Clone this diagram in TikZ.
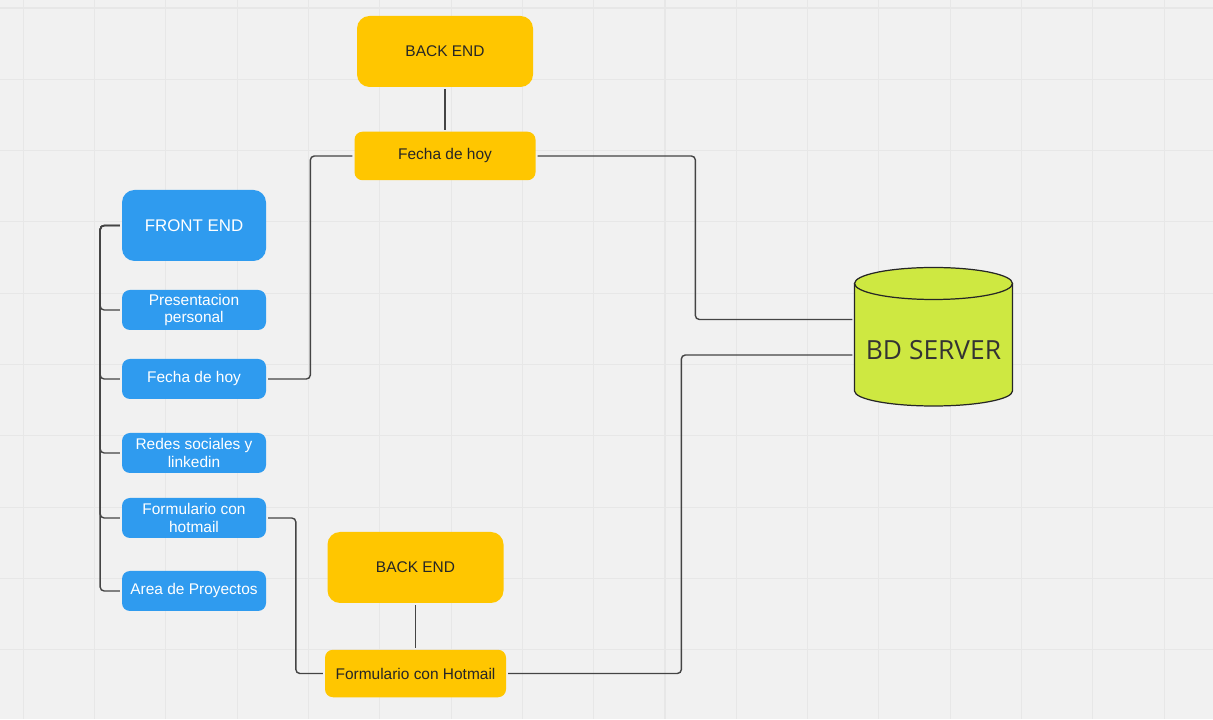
\documentclass[tikz,border=0pt]{standalone}
\usepackage{fontspec}
\setmainfont{Liberation Sans}
\newfontfamily\dbfont{Open Sans}
\usepackage{xcolor}
\usepackage{tikz}
\usetikzlibrary{arrows.meta, positioning}
\definecolor{bgcol}{HTML}{F1F1F1}
\definecolor{gridcol}{HTML}{E7E7E7}
\definecolor{feblue}{HTML}{2F9BEF}
\definecolor{beyellow}{HTML}{FFC600}
\definecolor{dbgreen}{HTML}{CEE841}
\definecolor{linecol}{HTML}{444444}

\begin{document}
\begin{tikzpicture}[
    front/.style={fill=feblue, text=white, rounded corners=0.16cm, minimum width=2.88cm,
      minimum height=0.8cm, align=center, inner sep=1pt, font=\fontsize{8.8}{10.2}\selectfont},
    back/.style={fill=beyellow, text=black!85, rounded corners=0.16cm, minimum width=3.62cm,
      minimum height=0.97cm, align=center, inner sep=1pt, font=\fontsize{8.8}{10.2}\selectfont},
    conn/.style={draw=linecol, line width=0.8pt, rounded corners=0.08cm, shorten <=1pt, shorten >=1pt}
  ]
  % background and grid
  \fill[bgcol] (0,0) rectangle (24.26,14.38);
  \useasboundingbox (0,0) rectangle (24.26,14.38);
  \foreach \i in {0,...,16} {
    \draw[gridcol, line width=0.6pt] ({0.466+1.426*\i},0) -- ({0.466+1.426*\i},14.38);
  }
  \foreach \j in {0,...,9} {
    \draw[gridcol, line width=0.6pt] (0,{14.22-1.426*\j}) -- (24.26,{14.22-1.426*\j});
  }

  % front end
  \node[front, minimum height=1.42cm, rounded corners=0.25cm, font=\fontsize{9.6}{11}\selectfont] (fe) at (3.88,9.87) {FRONT END};
  \node[front] (pp) at (3.88,8.18) {Presentacion\\personal};
  \node[front] (fh1) at (3.88,6.80) {Fecha de hoy};
  \node[front] (rs) at (3.88,5.32) {Redes sociales y\\linkedin};
  \node[front] (fo1) at (3.88,4.02) {Formulario con\\hotmail};
  \node[front] (ap) at (3.88,2.56) {Area de Proyectos};

  % back end
  \node[back, minimum width=3.52cm, minimum height=1.42cm, rounded corners=0.25cm] (be1) at (8.90,13.35) {BACK END};
  \node[back] (fh2) at (8.90,11.26) {Fecha de hoy};
  \node[back, minimum width=3.52cm, minimum height=1.42cm, rounded corners=0.25cm] (be2) at (8.31,3.03) {BACK END};
  \node[back, minimum height=0.95cm] (fo2) at (8.31,0.91) {Formulario con Hotmail};

  % database
  \fill[dbgreen] (17.09,8.71) -- (17.09,6.56) arc[start angle=180, end angle=360, x radius=1.58cm, y radius=0.30cm]
    -- (20.25,8.71) arc[start angle=0, end angle=180, x radius=1.58cm, y radius=0.32cm] -- cycle;
  \draw[black!85, line width=0.7pt] (17.09,8.71) -- (17.09,6.56) arc[start angle=180, end angle=360, x radius=1.58cm, y radius=0.30cm]
    -- (20.25,8.71);
  \draw[black!85, line width=0.7pt] (18.67,8.71) ellipse[x radius=1.58cm, y radius=0.32cm];
  \node[minimum width=3.16cm, inner sep=0pt, text=black!80, font=\dbfont\fontsize{15}{18}\selectfont] (db) at (18.67,7.38) {BD SERVER};

  % connectors
  \foreach \c in {pp, fh1, rs, fo1, ap} {
    \draw[conn] (fe.west) -- ++(-0.43,0) |- (\c.west);
  }
  \draw[conn] (be1.south) -- (fh2.north);
  \draw[conn] (be2.south) -- (fo2.north);
  \draw[conn] (fh1.east) -- ++(0.88,0) |- (fh2.west);
  \draw[conn] (fh2.east) -- ++(3.19,0) |- ([yshift=0.61cm]db.west);
  \draw[conn] (fo1.east) -- ++(0.59,0) |- (fo2.west);
  \draw[conn] (fo2.east) -- ++(3.50,0) |- ([yshift=-0.10cm]db.west);
\end{tikzpicture}
\end{document}
